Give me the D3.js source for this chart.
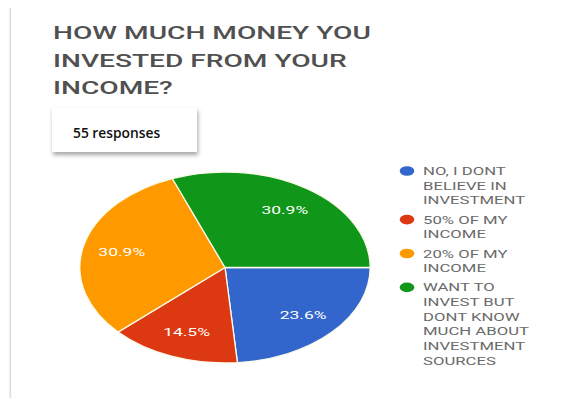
<!DOCTYPE html>
<html>
<head>
<meta charset="utf-8">
<script src="https://cdn.jsdelivr.net/npm/d3@7"></script>
<style>
body { margin: 0; background: #fff; }
svg { display: block; }
</style>
</head>
<body>
<svg id="chart" width="588" height="402"></svg>
<script>
var titleLines = ["HOW MUCH MONEY YOU", "INVESTED FROM YOUR", "INCOME?"];
var responsesText = "55 responses";
var categories = ["NO, I DONT BELIEVE IN INVESTMENT", "50% OF MY INCOME", "20% OF MY INCOME", "WANT TO INVEST BUT DONT KNOW MUCH ABOUT INVESTMENT SOURCES"];
var legendLines = [
	["NO, I DONT", "BELIEVE IN", "INVESTMENT"],
	["50% OF MY", "INCOME"],
	["20% OF MY", "INCOME"],
	["WANT TO", "INVEST BUT", "DONT KNOW", "MUCH ABOUT", "INVESTMENT", "SOURCES"]
];
// responses per answer (55 total)
var counts = [13, 8, 17, 17];
var colors = ["#3366cc", "#dc3912", "#ff9900", "#109618"];

// the screenshot is stretched sideways, so draw the chart in a squeezed space
var SX = 1.52;
var R = 95.5;
var total = d3.sum(counts);
var pct = d3.format(".1%");

var svg = d3.select("#chart");

var defs = svg.append("defs");
var shadow = defs.append("filter").attr("id", "shadow")
	.attr("x", "-20%").attr("y", "-30%").attr("width", "140%").attr("height", "170%");
shadow.append("feDropShadow")
	.attr("dx", 1).attr("dy", 3).attr("stdDeviation", 2.2)
	.attr("flood-color", "#000").attr("flood-opacity", 0.35);

// page edge line on the left
svg.append("rect")
	.attr("x", 9.5).attr("y", 8)
	.attr("width", 1.6).attr("height", 390)
	.attr("fill", "#dcdcdc");

var stretched = svg.append("g").attr("transform", "scale(" + SX + ",1)");

/**
 * Title, three lines.
 */
stretched.append("g").selectAll("text")
	.data(titleLines)
	.enter().append("text")
	.attr("x", 53 / SX)
	.attr("y", function(d, i) { return 39.5 + i * 27.5; })
	.attr("fill", "#505050")
	.style("font", "500 18.5px Roboto, 'Liberation Sans', sans-serif")
	.text(function(d) { return d; });

/**
 * Pie.
 */
var pie = d3.pie()
	.sort(null)
	.startAngle(Math.PI / 2)
	.endAngle(Math.PI / 2 + 2 * Math.PI)
	.value(function(d) { return d; });

var arc = d3.arc().innerRadius(0).outerRadius(R);
var labelArc = d3.arc().innerRadius(R * 0.73).outerRadius(R * 0.73);

var pieG = stretched.append("g")
	.attr("transform", "translate(" + (225 / SX) + ",267.5)");

var slices = pieG.selectAll("g.slice")
	.data(pie(counts))
	.enter().append("g")
	.attr("class", "slice");

slices.append("path")
	.attr("d", arc)
	.attr("fill", function(d, i) { return colors[i]; })
	.attr("stroke", "#fbfbe8")
	.attr("stroke-width", 1.3)
	.attr("vector-effect", "non-scaling-stroke");

slices.append("text")
	.attr("transform", function(d) { return "translate(" + labelArc.centroid(d) + ")"; })
	.attr("dy", "0.35em")
	.attr("text-anchor", "middle")
	.attr("fill", "#fff")
	.style("font", "11.5px Roboto, 'Liberation Sans', sans-serif")
	.text(function(d) { return pct(d.value / total); });

/**
 * Legend on the right, one dot per answer.
 */
var lineH = 14.7;
var itemGap = 4.5;
var legendY = [];
var yy = 171;
legendLines.forEach(function(lines) {
	legendY.push(yy);
	yy += lines.length * lineH + itemGap;
});

var legend = stretched.append("g").selectAll("g")
	.data(categories)
	.enter().append("g")
	.attr("transform", function(d, i) { return "translate(0," + legendY[i] + ")"; });

legend.append("circle")
	.attr("cx", 407 / SX)
	.attr("cy", 0)
	.attr("r", 4.8)
	.attr("fill", function(d, i) { return colors[i]; });

legend.append("text")
	.attr("fill", "#6a6a6a")
	.style("font", "11px Roboto, 'Liberation Sans', sans-serif")
	.selectAll("tspan")
	.data(function(d, i) { return legendLines[i]; })
	.enter().append("tspan")
	.attr("x", 423 / SX)
	.attr("y", function(d, j) { return j * lineH + 4; })
	.text(function(d) { return d; });

/**
 * "55 responses" box pasted over the chart.
 */
svg.append("rect")
	.attr("x", 52).attr("y", 108)
	.attr("width", 145).attr("height", 44)
	.attr("fill", "#fff")
	.attr("filter", "url(#shadow)");

svg.append("text")
	.attr("x", 73).attr("y", 137.5)
	.attr("fill", "#111")
	.style("font", "600 13.8px 'Open Sans', sans-serif")
	.text(responsesText);
</script>
</body>
</html>
